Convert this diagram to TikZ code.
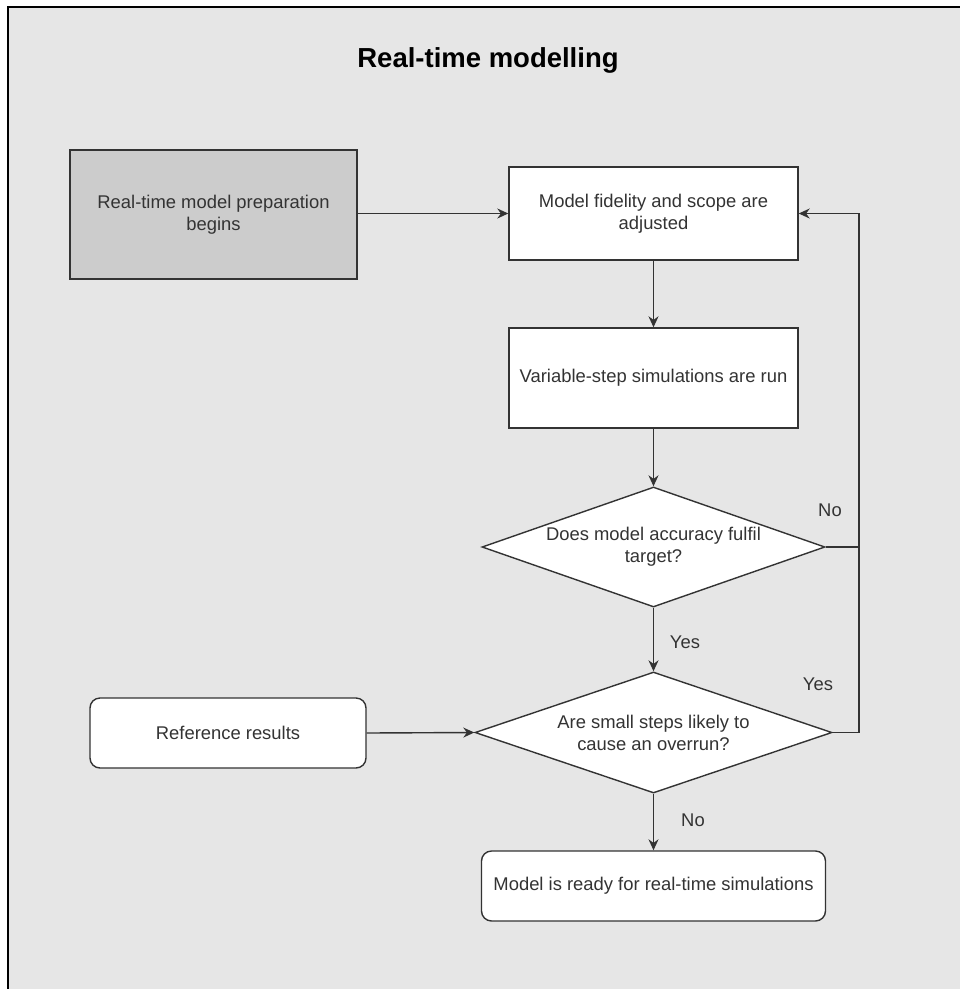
\documentclass[tikz,border=0pt]{standalone}
\usepackage{fontspec}
\setmainfont{Liberation Sans}
\usetikzlibrary{shapes.geometric,arrows.meta}
\definecolor{canvas}{HTML}{E6E6E6}
\definecolor{startfill}{HTML}{CCCCCC}
\definecolor{ink}{HTML}{333333}
\begin{document}
\begin{tikzpicture}[x=1pt,y=-1pt,
  every node/.style={font=\fontsize{18.4}{22}\selectfont, text=ink},
  procbox/.style={draw=ink, line width=1.4pt, fill=white, inner sep=0pt, align=center},
  roundbox/.style={procbox, rounded corners=10pt},
  decision/.style={diamond, draw=ink, line width=1.4pt, fill=white, inner sep=0pt},
  flow/.style={draw=ink, line width=1.4pt, -{Stealth[length=11pt,width=10pt]}},
  plain/.style={draw=ink, line width=1.4pt},
  tag/.style={inner sep=0pt}]
\useasboundingbox (0,0) rectangle (960,989);
\clip (0,0) rectangle (960,989);
% canvas
\draw[fill=canvas, draw=black, line width=1.4pt] (8,7) rectangle (975,1005);

\node[font=\bfseries\fontsize{27.5}{30}\selectfont, text=black] (title) at (488,60) {Real-time modelling};

% process boxes
\node[procbox, fill=startfill, minimum width=287, minimum height=129] (start) at (213.5,214.5)
  {Real-time model preparation\\begins};
\node[procbox, minimum width=289, minimum height=93] (adjust) at (653.5,213.5)
  {Model fidelity and scope are\\adjusted};
\node[procbox, minimum width=289, minimum height=100] (sim) at (653.5,378)
  {Variable-step simulations are run};

% decisions
\node[decision, minimum width=343, minimum height=120] (acc) at (653.5,547) {};
\node[align=center] (acct) at (acc.center) {Does model accuracy fulfil\\target?};
\node[decision, minimum width=357, minimum height=121] (steps) at (653.5,732.5) {};
\node[align=center] (stepst) at (steps.center) {Are small steps likely to\\cause an overrun?};

% rounded boxes
\node[roundbox, minimum width=276, minimum height=70] (ref) at (228,733)
  {Reference results};
\node[roundbox, minimum width=344, minimum height=70] (ready) at (653.5,886)
  {Model is ready for real-time simulations};

% connectors
\coordinate (loop) at (859,213.5);
\draw[flow] (start.east |- adjust.west) -- (adjust.west);
\draw[flow] (adjust.south) -- (sim.north);
\draw[flow] (sim.south) -- (acc.north);
\draw[flow] (acc.south) -- (steps.north);
\draw[flow] (steps.south) -- (ready.north);
\draw[flow] (ref.east) -- (steps.west);
\draw[plain] (acc.east) -- (acc.east -| loop);
\draw[flow] (steps.east) -- (steps.east -| loop) -- (loop) -- (adjust.east);

% branch labels
\node[tag] (noacc) at (830,510) {No};
\node[tag] (yesacc) at (685,642) {Yes};
\node[tag] (yessteps) at (818,684) {Yes};
\node[tag] (nosteps) at (693,820) {No};
\end{tikzpicture}
\end{document}
